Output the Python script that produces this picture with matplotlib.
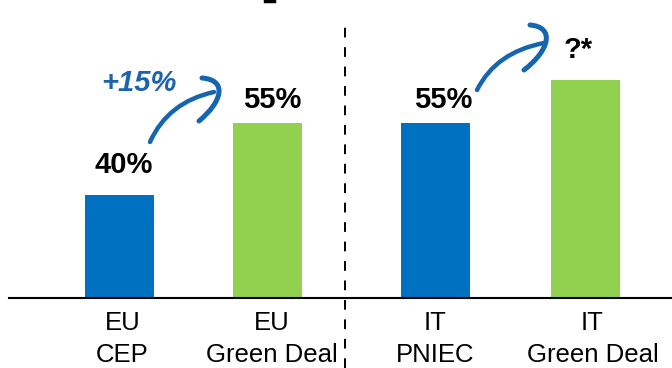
import matplotlib
matplotlib.use("Agg")
import matplotlib.pyplot as plt
from matplotlib.path import Path
from matplotlib.patches import PathPatch
from matplotlib.lines import Line2D

plt.rcParams['font.family'] = ['Liberation Sans', 'DejaVu Sans']

categories = ["EU\nCEP", "EU\nGreen Deal", "IT\nPNIEC", "IT\nGreen Deal"]
values = [40, 55, 55, 64]
value_labels = ["40%", "55%", "55%", "?*"]
colors = ["#0070C0", "#92D050", "#0070C0", "#92D050"]
positions = [0, 1, 2.135, 3.15]
delta_label = "+15%"

W, H = 672, 368
fig = plt.figure(figsize=(W / 100, H / 100), dpi=100)
ax = fig.add_axes([9 / W, (H - 298) / H, 663 / W, 298 / H])

ax.bar(positions, values, width=0.466, color=colors, zorder=2)
ax.set_ylim(18.5, 80.6)
ax.set_xlim(-0.747, 3.733)

label_offsets = [(4, 22), (5, 15), (8, 15), (-8, 22)]
for x, v, lab, off in zip(positions, values, value_labels, label_offsets):
    ax.annotate(lab, (x, v), xytext=off, textcoords='offset pixels',
                ha='center', va='baseline', fontsize=21, fontweight='bold',
                color='black')

for s in ['top', 'right', 'left']:
    ax.spines[s].set_visible(False)
ax.spines['bottom'].set_linewidth(1.5)
ax.spines['bottom'].set_color('black')
ax.set_yticks([])
ax.set_xticks([p + d for p, d in zip(positions, [0.02, 0.03, 0.0, 0.045])])
ax.set_xticklabels(categories, fontsize=18.5, linespacing=1.45)
ax.tick_params(axis='x', length=0, pad=9)


def fp(x, y):
    return (x / W, 1 - y / H)

# dashed separator
fig.add_artist(Line2D([345 / W, 345 / W], [0, 1 - 18 / H], transform=fig.transFigure,
                      color='black', lw=1.4, linestyle=(0, (5, 5))))

# tiny cut-off title mark at top
fig.add_artist(Line2D([265 / W, 274 / W], [1 - 1 / H, 1 - 1 / H], transform=fig.transFigure,
                      color='black', lw=2.5))

arrow_color = "#1565B0"


def curve(pts, codes, lw=3.2):
    p = Path([fp(*q) for q in pts], codes)
    fig.add_artist(PathPatch(p, transform=fig.transFigure, fill=False,
                             edgecolor=arrow_color, lw=lw, capstyle='round',
                             joinstyle='round'))

Q = [Path.MOVETO, Path.CURVE3, Path.CURVE3]
C = [Path.MOVETO, Path.CURVE4, Path.CURVE4, Path.CURVE4]

# arrow 1
curve([(150, 142), (168, 102), (214, 92)], Q)
curve([(202, 78), (228, 80), (222, 102), (199, 121)], C, lw=3.6)
# arrow 2
curve([(477, 90), (496, 52), (544, 43)], Q)
curve([(530, 25), (555, 27), (550, 50), (524, 70)], C, lw=3.6)

fig.text(*fp(139, 83), delta_label, ha='center', va='center', fontsize=21,
         fontweight='bold', fontstyle='italic', color="#1B63AE")

fig.savefig("out.png", dpi=100)
